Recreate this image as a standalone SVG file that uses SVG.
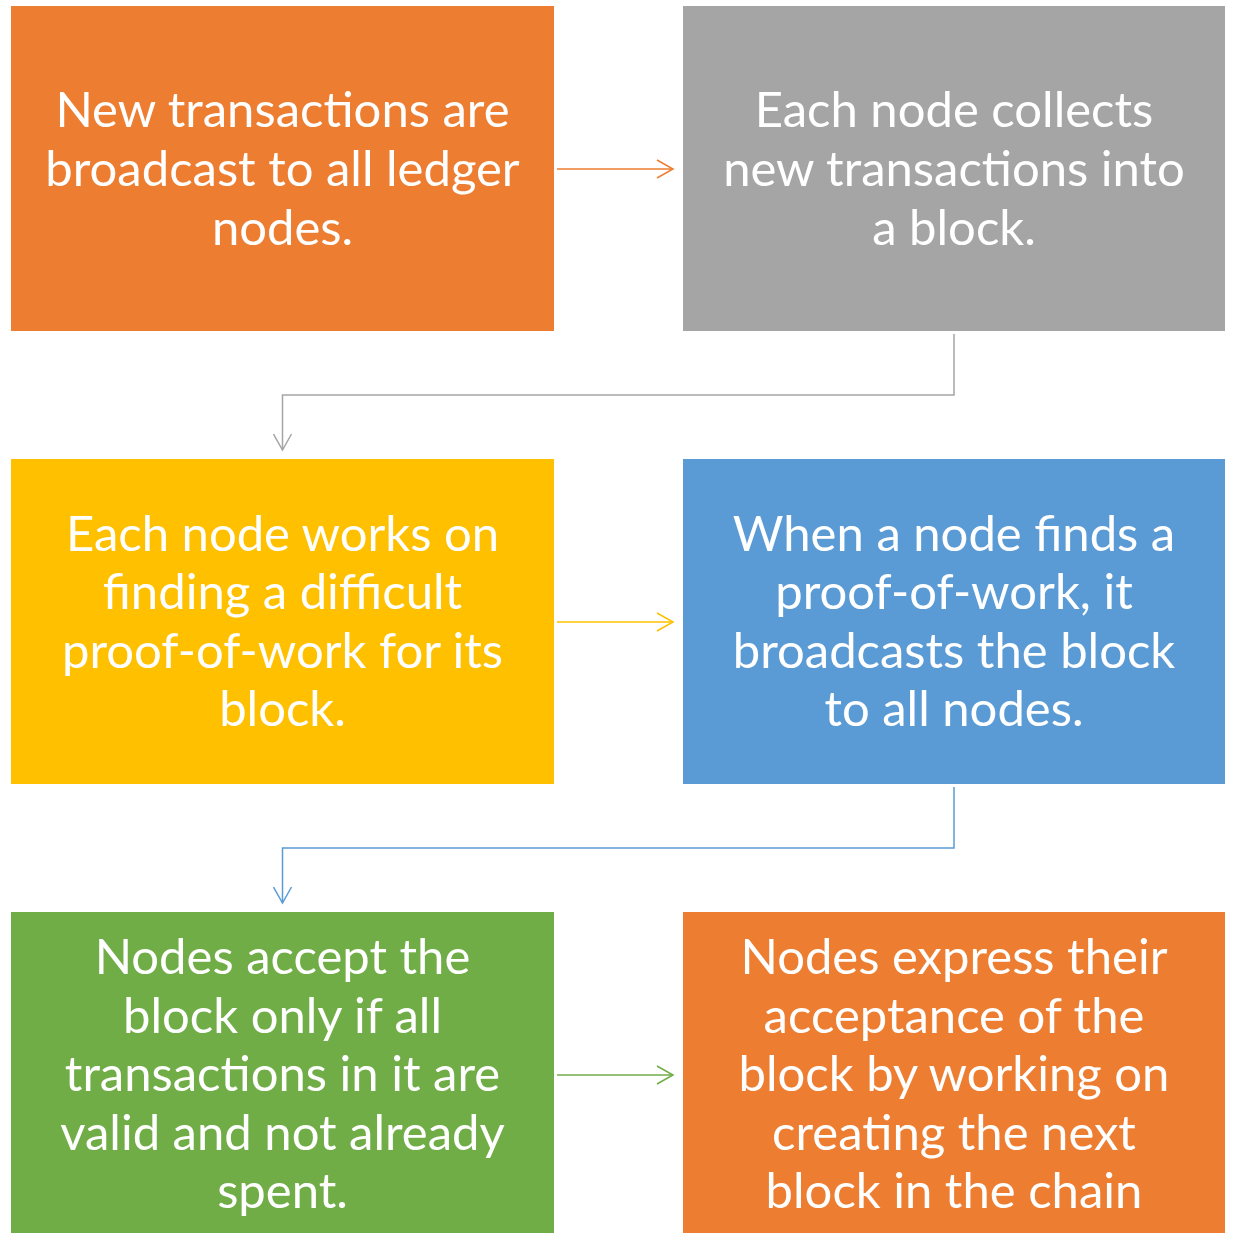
<svg xmlns="http://www.w3.org/2000/svg" width="1233" height="1233" viewBox="0 0 1233 1233">
  <style>
    .box { stroke: none; }
    .lbl { font-family: Lato, "Open Sans", "Liberation Sans", sans-serif; font-size: 49px; fill: #ffffff; text-anchor: middle; }
    .conn { fill: none; stroke-width: 1.5; }
  </style>
  <defs>
    <marker id="arr-orange" viewBox="0 0 20 20" refX="18" refY="10" markerWidth="20" markerHeight="20" markerUnits="userSpaceOnUse" orient="auto">
      <path d="M2,1 L18,10 L2,19" fill="none" stroke="#ED7D31" stroke-width="1.5"/>
    </marker>
    <marker id="arr-gray" viewBox="0 0 20 20" refX="18" refY="10" markerWidth="20" markerHeight="20" markerUnits="userSpaceOnUse" orient="auto">
      <path d="M2,1 L18,10 L2,19" fill="none" stroke="#A5A5A5" stroke-width="1.5"/>
    </marker>
    <marker id="arr-yellow" viewBox="0 0 20 20" refX="18" refY="10" markerWidth="20" markerHeight="20" markerUnits="userSpaceOnUse" orient="auto">
      <path d="M2,1 L18,10 L2,19" fill="none" stroke="#FFC000" stroke-width="1.5"/>
    </marker>
    <marker id="arr-blue" viewBox="0 0 20 20" refX="18" refY="10" markerWidth="20" markerHeight="20" markerUnits="userSpaceOnUse" orient="auto">
      <path d="M2,1 L18,10 L2,19" fill="none" stroke="#5B9BD5" stroke-width="1.5"/>
    </marker>
    <marker id="arr-green" viewBox="0 0 20 20" refX="18" refY="10" markerWidth="20" markerHeight="20" markerUnits="userSpaceOnUse" orient="auto">
      <path d="M2,1 L18,10 L2,19" fill="none" stroke="#70AD47" stroke-width="1.5"/>
    </marker>
  </defs>

  <rect width="1233" height="1233" fill="#ffffff"/>

  <g id="connectors">
    <path class="conn" d="M557,169 H673" stroke="#ED7D31" marker-end="url(#arr-orange)"/>
    <path class="conn" d="M954,334 V395 H282.5 V450" stroke="#A5A5A5" marker-end="url(#arr-gray)"/>
    <path class="conn" d="M557,622 H673" stroke="#FFC000" marker-end="url(#arr-yellow)"/>
    <path class="conn" d="M954,787 V848 H282.5 V903" stroke="#5B9BD5" marker-end="url(#arr-blue)"/>
    <path class="conn" d="M557,1075 H673" stroke="#70AD47" marker-end="url(#arr-green)"/>
  </g>

  <g id="node-broadcast">
    <rect class="box" x="11" y="6" width="543" height="325" fill="#ED7D31"/>
    <text class="lbl" x="282.5" y="127">New transactions are</text>
    <text class="lbl" x="282.5" y="186">broadcast to all ledger</text>
    <text class="lbl" x="282.5" y="245">nodes.</text>
  </g>

  <g id="node-collect">
    <rect class="box" x="683" y="6" width="542" height="325" fill="#A5A5A5"/>
    <text class="lbl" x="954" y="127">Each node collects</text>
    <text class="lbl" x="954" y="186">new transactions into</text>
    <text class="lbl" x="954" y="245">a block.</text>
  </g>

  <g id="node-proof">
    <rect class="box" x="11" y="459" width="543" height="325" fill="#FFC000"/>
    <text class="lbl" x="282.5" y="551">Each node works on</text>
    <text class="lbl" x="282.5" y="609">finding a difficult</text>
    <text class="lbl" x="282.5" y="668">proof-of-work for its</text>
    <text class="lbl" x="282.5" y="726">block.</text>
  </g>

  <g id="node-found">
    <rect class="box" x="683" y="459" width="542" height="325" fill="#5B9BD5"/>
    <text class="lbl" x="954" y="551">When a node finds a</text>
    <text class="lbl" x="954" y="609">proof-of-work, it</text>
    <text class="lbl" x="954" y="668">broadcasts the block</text>
    <text class="lbl" x="954" y="726">to all nodes.</text>
  </g>

  <g id="node-accept">
    <rect class="box" x="11" y="912" width="543" height="325" fill="#70AD47"/>
    <text class="lbl" x="282.5" y="974">Nodes accept the</text>
    <text class="lbl" x="282.5" y="1033">block only if all</text>
    <text class="lbl" x="282.5" y="1091">transactions in it are</text>
    <text class="lbl" x="282.5" y="1150">valid and not already</text>
    <text class="lbl" x="282.5" y="1208">spent.</text>
  </g>

  <g id="node-next">
    <rect class="box" x="683" y="912" width="542" height="325" fill="#ED7D31"/>
    <text class="lbl" x="954" y="974">Nodes express their</text>
    <text class="lbl" x="954" y="1033">acceptance of the</text>
    <text class="lbl" x="954" y="1091">block by working on</text>
    <text class="lbl" x="954" y="1150">creating the next</text>
    <text class="lbl" x="954" y="1208">block in the chain</text>
  </g>
</svg>
